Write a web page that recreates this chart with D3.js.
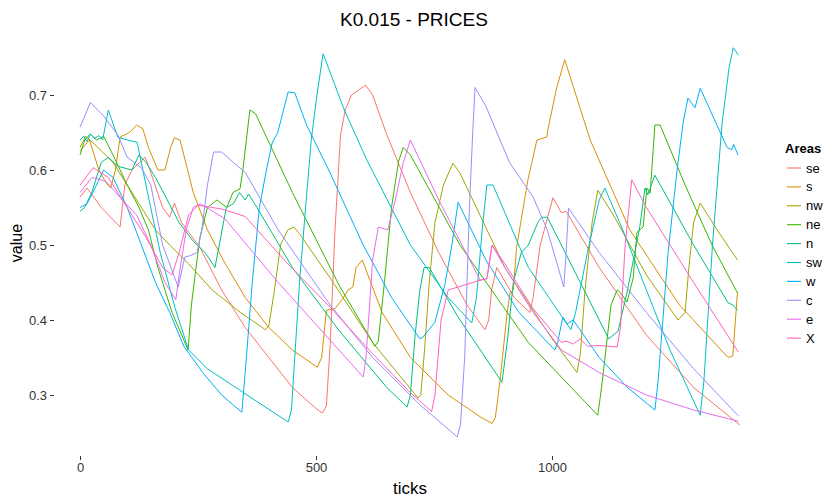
<!DOCTYPE html>
<html lang="en">
<head>
<meta charset="UTF-8">
<script src="https://cdn.jsdelivr.net/npm/d3@7"></script>
<title>K0.015 - PRICES</title>
<style>
    body { margin: 0; background: #fff; }
    svg text { font-family: Arial, "Liberation Sans", sans-serif; }
</style>
</head>
<body>
<div id="chart"></div>
<script>
    // legend order + ggplot hue palette
    const areas = ["se", "s", "nw", "ne", "n", "sw", "w", "c", "e", "X"];
    const palette = ["#F8766D", "#D89000", "#A3A500", "#39B600", "#00BF7D", "#00BFC4", "#00B0F6", "#9590FF", "#E76BF3", "#FF62BC"];

    const xTicks = [0, 500, 1000];
    const yTicks = [0.3, 0.4, 0.5, 0.6, 0.7];

    // [tick, price]
    const se = [[0,0.564],[15,0.576],[45,0.55],[85,0.524],[95,0.58],[110,0.6],[138,0.617],[148,0.6],[175,0.55],[190,0.537],[200,0.556],[215,0.53],[254,0.497],[300,0.44],[350,0.39],[400,0.35],[450,0.31],[500,0.282],[513,0.276],[522,0.285],[530,0.367],[540,0.517],[552,0.647],[562,0.68],[575,0.7],[605,0.713],[620,0.7],[650,0.647],[700,0.57],[760,0.49],[820,0.42],[858,0.387],[866,0.4],[872,0.44],[883,0.47],[920,0.43],[953,0.41],[960,0.43],[975,0.5],[1002,0.563],[1020,0.543],[1030,0.545],[1100,0.47],[1200,0.38],[1300,0.31],[1398,0.26]];
    const s = [[0,0.625],[20,0.64],[40,0.6],[55,0.583],[65,0.576],[75,0.6],[85,0.644],[105,0.65],[120,0.66],[133,0.655],[145,0.63],[165,0.6],[180,0.6],[192,0.63],[200,0.643],[212,0.64],[240,0.57],[270,0.52],[307,0.476],[350,0.43],[400,0.39],[450,0.36],[503,0.337],[512,0.35],[522,0.413],[540,0.415],[555,0.427],[568,0.44],[578,0.444],[585,0.47],[598,0.48],[640,0.41],[700,0.35],[780,0.3],[850,0.27],[873,0.262],[880,0.27],[890,0.32],[905,0.41],[911,0.436],[918,0.44],[925,0.497],[949,0.587],[957,0.609],[968,0.64],[989,0.644],[992,0.656],[1010,0.71],[1027,0.747],[1081,0.64],[1165,0.52],[1270,0.42],[1373,0.35],[1383,0.352],[1393,0.437]];
    const nw = [[0,0.63],[12,0.645],[35,0.632],[70,0.61],[100,0.58],[130,0.55],[160,0.52],[190,0.5],[230,0.475],[280,0.44],[340,0.41],[393,0.387],[400,0.392],[412,0.44],[425,0.5],[440,0.52],[453,0.524],[465,0.515],[530,0.456],[620,0.37],[716,0.296],[722,0.3],[730,0.36],[740,0.45],[752,0.53],[770,0.58],[790,0.609],[805,0.596],[900,0.47],[1000,0.375],[1053,0.33],[1060,0.355],[1070,0.44],[1085,0.53],[1097,0.573],[1130,0.54],[1200,0.46],[1267,0.4],[1282,0.41],[1290,0.47],[1300,0.53],[1314,0.556],[1350,0.52],[1393,0.48]];
    const ne = [[0,0.62],[10,0.64],[22,0.648],[35,0.64],[50,0.645],[70,0.62],[100,0.58],[125,0.55],[145,0.52],[165,0.47],[195,0.41],[229,0.36],[236,0.42],[254,0.51],[270,0.55],[290,0.56],[311,0.55],[324,0.57],[339,0.575],[345,0.6],[360,0.68],[372,0.675],[450,0.57],[550,0.445],[625,0.365],[632,0.372],[645,0.45],[660,0.55],[675,0.612],[685,0.63],[700,0.62],[805,0.5],[950,0.37],[1097,0.273],[1105,0.31],[1125,0.42],[1138,0.44],[1143,0.438],[1159,0.424],[1172,0.456],[1180,0.517],[1193,0.524],[1201,0.576],[1208,0.569],[1218,0.66],[1229,0.66],[1282,0.58],[1339,0.5],[1393,0.436]];
    const n = [[0,0.545],[10,0.55],[25,0.57],[45,0.61],[60,0.617],[80,0.605],[110,0.6],[125,0.62],[140,0.61],[160,0.59],[185,0.56],[210,0.53],[240,0.505],[265,0.49],[286,0.47],[295,0.5],[310,0.55],[325,0.555],[338,0.57],[350,0.56],[357,0.568],[375,0.55],[450,0.47],[550,0.385],[650,0.31],[693,0.284],[700,0.3],[710,0.38],[720,0.44],[729,0.47],[740,0.47],[800,0.405],[894,0.317],[905,0.37],[918,0.45],[935,0.49],[950,0.5],[970,0.53],[978,0.537],[990,0.537],[1060,0.45],[1120,0.375],[1140,0.385],[1160,0.44],[1186,0.524],[1197,0.576],[1203,0.567],[1218,0.593],[1300,0.5],[1373,0.423],[1383,0.42],[1393,0.413]];
    const sw = [[0,0.64],[8,0.645],[15,0.638],[22,0.648],[30,0.642],[40,0.646],[48,0.64],[60,0.68],[80,0.644],[100,0.64],[121,0.637],[142,0.573],[170,0.49],[201,0.417],[230,0.36],[270,0.335],[330,0.31],[390,0.285],[441,0.264],[448,0.28],[455,0.35],[465,0.45],[478,0.55],[490,0.64],[502,0.7],[515,0.755],[560,0.68],[608,0.613],[700,0.5],[780,0.43],[830,0.396],[840,0.43],[852,0.52],[862,0.58],[875,0.58],[950,0.47],[1040,0.387],[1050,0.41],[1075,0.49],[1100,0.56],[1112,0.576],[1150,0.52],[1250,0.36],[1314,0.273],[1322,0.32],[1340,0.5],[1360,0.66],[1375,0.736],[1384,0.763],[1395,0.753]];
    const w = [[0,0.55],[15,0.555],[35,0.58],[50,0.6],[70,0.59],[100,0.55],[130,0.5],[160,0.45],[190,0.41],[220,0.365],[260,0.33],[300,0.3],[343,0.277],[350,0.33],[365,0.45],[380,0.55],[395,0.6],[407,0.636],[419,0.65],[441,0.704],[455,0.703],[480,0.66],[530,0.596],[600,0.5],[660,0.43],[720,0.375],[725,0.376],[752,0.397],[773,0.447],[788,0.5],[801,0.557],[860,0.48],[930,0.41],[1006,0.36],[1012,0.37],[1023,0.404],[1032,0.395],[1045,0.4],[1100,0.35],[1160,0.31],[1218,0.28],[1225,0.32],[1246,0.49],[1265,0.6],[1278,0.664],[1288,0.696],[1303,0.683],[1314,0.709],[1371,0.63],[1381,0.627],[1385,0.634],[1394,0.62]];
    const c = [[0,0.657],[22,0.69],[50,0.672],[80,0.647],[100,0.617],[130,0.603],[150,0.58],[175,0.5],[208,0.444],[222,0.484],[235,0.486],[248,0.49],[258,0.52],[270,0.58],[283,0.624],[300,0.624],[325,0.61],[350,0.597],[420,0.52],[530,0.42],[620,0.35],[720,0.287],[770,0.26],[799,0.244],[806,0.26],[815,0.35],[825,0.55],[832,0.65],[837,0.71],[860,0.685],[890,0.64],[910,0.61],[960,0.564],[990,0.52],[1025,0.444],[1030,0.49],[1035,0.549],[1045,0.54],[1100,0.49],[1200,0.41],[1300,0.335],[1395,0.272]];
    const e = [[0,0.57],[25,0.59],[55,0.585],[90,0.56],[120,0.54],[150,0.5],[180,0.45],[203,0.427],[210,0.46],[225,0.52],[240,0.55],[255,0.555],[307,0.535],[420,0.45],[530,0.373],[600,0.324],[606,0.35],[620,0.48],[632,0.524],[652,0.52],[668,0.56],[685,0.61],[700,0.64],[760,0.56],[848,0.453],[862,0.455],[873,0.5],[900,0.47],[960,0.41],[1020,0.36],[1100,0.33],[1200,0.3],[1300,0.28],[1395,0.265]];
    const X = [[0,0.58],[28,0.603],[60,0.59],[100,0.55],[140,0.51],[175,0.47],[195,0.46],[210,0.49],[230,0.54],[250,0.553],[300,0.548],[350,0.538],[440,0.475],[530,0.417],[620,0.355],[700,0.303],[745,0.278],[752,0.3],[765,0.4],[780,0.44],[848,0.453],[862,0.455],[873,0.5],[900,0.475],[960,0.415],[1020,0.37],[1030,0.372],[1045,0.368],[1060,0.375],[1075,0.365],[1100,0.366],[1138,0.364],[1145,0.39],[1155,0.5],[1169,0.587],[1200,0.55],[1300,0.45],[1395,0.357]];

    const seriesData = { se, s, nw, ne, n, sw, w, c, e, X };

    const width = 825, height = 500;

    const svg = d3.select("#chart").append("svg")
        .attr("width", width)
        .attr("height", height);

    // scales: 0 -> 80px, 1000 -> 552px ; 0.7 -> 95px, 0.3 -> 395px
    const x = d3.scaleLinear().domain([0, 1000]).range([80, 552]);
    const y = d3.scaleLinear().domain([0.3, 0.7]).range([395, 95]);
    const color = d3.scaleOrdinal().domain(areas).range(palette);

    // title
    svg.append("text")
        .attr("x", 414)
        .attr("y", 26)
        .attr("text-anchor", "middle")
        .attr("font-size", "19px")
        .attr("fill", "#000")
        .text("K0.015 - PRICES");

    // y axis
    const yAxis = svg.append("g")
        .attr("transform", "translate(54,0)")
        .call(d3.axisLeft(y).tickValues(yTicks).tickFormat(d3.format(".1f")).tickSize(4).tickPadding(3));
    yAxis.select(".domain").remove();
    yAxis.selectAll("line").attr("stroke", "#333");
    yAxis.selectAll("text").attr("font-size", "13px").attr("fill", "#333");

    // x axis
    const xAxis = svg.append("g")
        .attr("transform", "translate(0,456)")
        .call(d3.axisBottom(x).tickValues(xTicks).tickFormat(d3.format("d")).tickSize(4).tickPadding(3));
    xAxis.select(".domain").remove();
    xAxis.selectAll("line").attr("stroke", "#333");
    xAxis.selectAll("text").attr("font-size", "13px").attr("fill", "#333");

    // axis titles
    svg.append("text")
        .attr("transform", "translate(22,243) rotate(-90)")
        .attr("text-anchor", "middle")
        .attr("font-size", "16px")
        .attr("fill", "#000")
        .text("value");

    svg.append("text")
        .attr("x", 410)
        .attr("y", 494)
        .attr("text-anchor", "middle")
        .attr("font-size", "17px")
        .attr("fill", "#000")
        .text("ticks");

    // lines
    const line = d3.line()
        .x(d => x(d[0]))
        .y(d => y(d[1]));

    svg.append("g")
        .selectAll("path")
        .data(areas)
        .enter()
        .append("path")
        .attr("d", k => line(seriesData[k]))
        .attr("fill", "none")
        .attr("stroke", k => color(k))
        .attr("stroke-width", 1)
        .attr("stroke-linejoin", "round");

    // legend
    const legend = svg.append("g").attr("transform", "translate(785,0)");
    legend.append("text")
        .attr("x", 0)
        .attr("y", 153)
        .attr("font-size", "13px")
        .attr("font-weight", "bold")
        .text("Areas");

    const item = legend.selectAll(".item")
        .data(areas)
        .enter()
        .append("g")
        .attr("class", "item")
        .attr("transform", (d, i) => `translate(0,${168 + i * 18.9})`);

    item.append("line")
        .attr("x1", 2).attr("x2", 16)
        .attr("y1", 0).attr("y2", 0)
        .attr("stroke", d => color(d))
        .attr("stroke-width", 1.1);

    item.append("text")
        .attr("x", 21)
        .attr("y", 0)
        .attr("dy", "0.35em")
        .attr("font-size", "13px")
        .attr("fill", "#000")
        .text(d => d);
</script>
</body>
</html>
